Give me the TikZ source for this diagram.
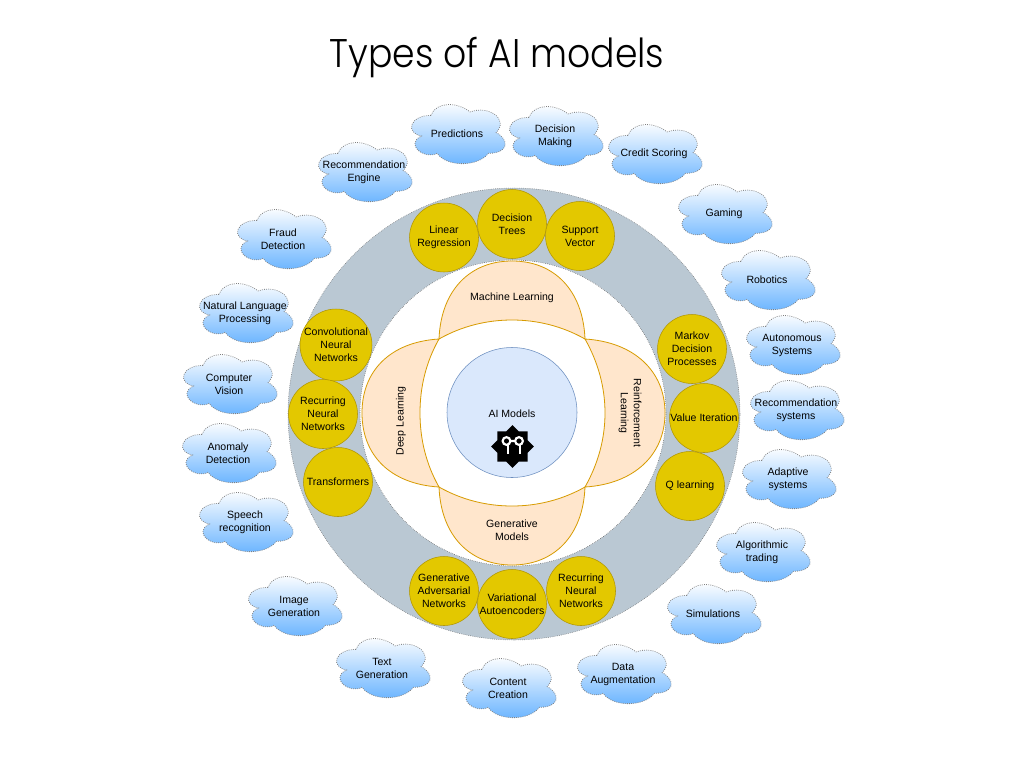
\documentclass[tikz,border=0pt]{standalone}
\usepackage{fontspec}
\setmainfont{Liberation Sans}
\newfontfamily\titleFont{Poppins Light}
\usepackage{xcolor}
\definecolor{RINGCOLOR}{HTML}{BAC8D3}
\definecolor{MODELCOLOR}{HTML}{E3C800}
\definecolor{MODELDRAW}{HTML}{B09500}
\definecolor{PETALCOLOR}{HTML}{FFE6CC}
\definecolor{PETALDRAW}{HTML}{D79B00}
\definecolor{COREAREA}{HTML}{DAE8FC}
\definecolor{COREDRAW}{HTML}{6C8EBF}
\definecolor{CLOUDCOLOR}{HTML}{66B2FF}
\usetikzlibrary{shapes,positioning}
\tikzset{
  label-style/.style = {
    align=center, inner sep=0pt, font=\fontsize{7.9}{9.75}\selectfont
  },
  model-style/.style = {
    circle, draw=MODELDRAW, fill=MODELCOLOR, minimum size=51.75pt, inner sep=0pt,
    align=center, font=\fontsize{7.9}{9.75}\selectfont
  },
  petal-style/.style = {
    draw=PETALDRAW, fill=PETALCOLOR, line width=0.6pt
  },
  cloud-style/.style = {
    draw=black!50, densely dotted, line width=0.6pt,
    top color=white, bottom color=CLOUDCOLOR
  },
  px/.style = {x=0.75pt, y=-0.75pt}
}
\def\createCloud name:#1 display:#2 at:#3;{
  \begin{scope}[shift={#3}, x=78.4pt, y=-51.75pt, shift={(-.5,-.52)}]
    \path[cloud-style] (.25,.25)
      .. controls (.05,.25) and (0,.5) .. (.16,.55)
      .. controls (0,.66) and (.18,.9) .. (.31,.8)
      .. controls (.4,1) and (.7,1) .. (.8,.8)
      .. controls (1,.8) and (1,.6) .. (.875,.5)
      .. controls (1,.3) and (.8,.1) .. (.625,.2)
      .. controls (.5,.05) and (.3,.05) .. (.25,.25) -- cycle;
  \end{scope}
  \node [label-style] (#1) at #3 {#2};
}
\def\createModel name:#1 display:#2 at:#3;{
  \node [model-style] (#1) at #3 {#2};
}
\begin{document}
\begin{tikzpicture}[px]
  \useasboundingbox (0,0) rectangle (1024,768);
  \node [anchor=base, xscale=.905, transform shape, font=\titleFont\fontsize{30}{36}\selectfont] (title) at (497,67) {Types of AI models};

  \createCloud name:predictions display:{Predictions} at:{(457,134)};
  \createCloud name:decisionMaking display:{Decision\\Making} at:{(555,136)};
  \createCloud name:creditScoring display:{Credit Scoring} at:{(654,154)};
  \createCloud name:gaming display:{Gaming} at:{(724,214)};
  \createCloud name:robotics display:{Robotics} at:{(767,280)};
  \createCloud name:autonomous display:{Autonomous\\Systems} at:{(792,345)};
  \createCloud name:recSystems display:{Recommendation\\systems} at:{(796,410)};
  \createCloud name:adaptive display:{Adaptive\\systems} at:{(788,479)};
  \createCloud name:trading display:{Algorithmic\\trading} at:{(762,552)};
  \createCloud name:simulations display:{Simulations} at:{(713,614)};
  \createCloud name:augmentation display:{Data\\Augmentation} at:{(623,674)};
  \createCloud name:content display:{Content\\Creation} at:{(508,688)};
  \createCloud name:textGen display:{Text\\Generation} at:{(382,668)};
  \createCloud name:imageGen display:{Image\\Generation} at:{(294,606)};
  \createCloud name:speech display:{Speech\\recognition} at:{(245,522)};
  \createCloud name:anomaly display:{Anomaly\\Detection} at:{(228,453)};
  \createCloud name:vision display:{Computer\\Vision} at:{(229,384)};
  \createCloud name:language display:{Natural Language\\Processing} at:{(245,313)};
  \createCloud name:fraud display:{Fraud\\Detection} at:{(283,239)};
  \createCloud name:recEngine display:{Recommendation\\Engine} at:{(364,172)};

  \node [circle, draw=black!60, densely dotted, fill=RINGCOLOR, minimum size=339pt, inner sep=0pt] (ring) at (514,414) {};
  \node [circle, draw=black!70, densely dotted, fill=white, minimum size=229.5pt, inner sep=0pt] (inner) at (513,413) {};

  \path[petal-style] (439,339) .. controls (441,290) and (470,261) .. (512,261)
    .. controls (554,261) and (583,290) .. (585,339)
    .. controls (562,326) and (537,320) .. (512,320)
    .. controls (487,320) and (462,326) .. (439,339) -- cycle;
  \path[petal-style] (439,487) .. controls (441,536) and (470,565) .. (512,565)
    .. controls (554,565) and (583,536) .. (585,487)
    .. controls (562,500) and (537,506) .. (512,506)
    .. controls (487,506) and (462,500) .. (439,487) -- cycle;
  \path[petal-style] (439,339) .. controls (390,342) and (362,371) .. (362,413)
    .. controls (362,455) and (390,484) .. (439,487)
    .. controls (426,464) and (420,439) .. (420,413)
    .. controls (420,387) and (426,362) .. (439,339) -- cycle;
  \path[petal-style] (585,339) .. controls (634,342) and (665,371) .. (665,413)
    .. controls (665,455) and (634,484) .. (585,487)
    .. controls (598,464) and (605,439) .. (605,413)
    .. controls (605,387) and (598,362) .. (585,339) -- cycle;

  \node [circle, draw=COREDRAW, fill=COREAREA, minimum size=97.5pt, inner sep=0pt] (core) at (512,412.5) {};
  \node [label-style] (aiModels) at (512,414) {AI Models};
  \node [label-style] (machine) at (512,297.5) {Machine Learning};
  \node [label-style] (generative) at (512,530) {Generative\\Models};
  \node [label-style, rotate=90] (deep) at (401,421) {Deep Learning};
  \node [label-style, rotate=-90] (reinforcement) at (630,413) {Reinforcement\\Learning};

  \node [star, star points=8, star point ratio=1.3, fill=black, minimum size=32pt, inner sep=0pt] (badge) at (512.5,446.5) {};
  \draw [white, line width=1.6pt] (506.5,441) circle (2.9pt) (519,441) circle (2.9pt) (510,441) -- (515,441);
  \draw [white, line width=1.3pt] (508,445) -- (508,454) (520,445) -- (520,454);

  \createModel name:linear display:{Linear\\Regression} at:{(444,237.5)};
  \createModel name:trees display:{Decision\\Trees} at:{(512,224)};
  \createModel name:support display:{Support\\Vector} at:{(580,236)};
  \createModel name:convolutional display:{Convolutional\\Neural\\Networks} at:{(336,345)};
  \createModel name:recurringLeft display:{Recurring\\Neural\\Networks} at:{(323,414)};
  \createModel name:transformers display:{Transformers} at:{(338,482)};
  \createModel name:markov display:{Markov\\Decision\\Processes} at:{(692,349)};
  \createModel name:valueIter display:{Value Iteration} at:{(704,418)};
  \createModel name:qLearning display:{Q learning} at:{(690,486)};
  \createModel name:adversarial display:{Generative\\Adversarial\\Networks} at:{(444,591)};
  \createModel name:variational display:{Variational\\Autoencoders} at:{(512,604)};
  \createModel name:recurringBottom display:{Recurring\\Neural\\Networks} at:{(581,591)};
\end{tikzpicture}
\end{document}
